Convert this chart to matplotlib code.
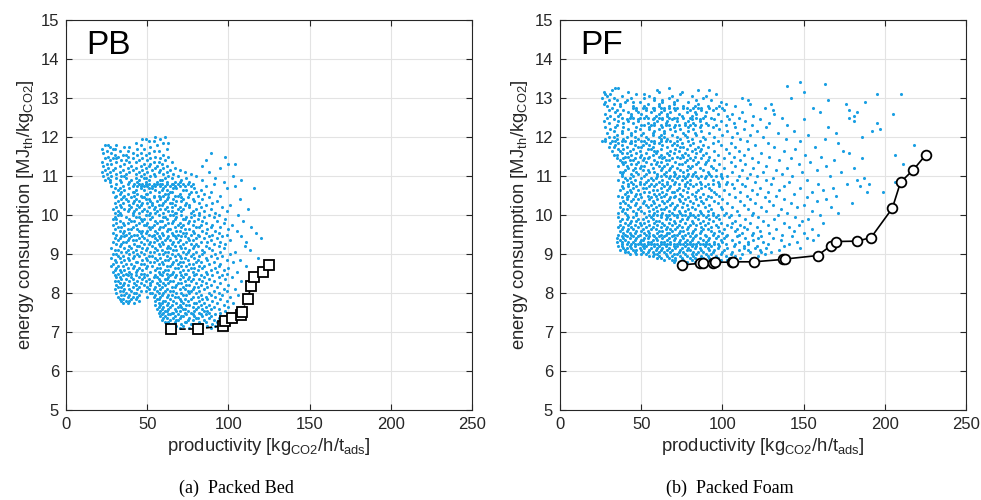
import matplotlib
matplotlib.use("Agg")
import matplotlib.pyplot as plt

# ---------------- data ----------------
xticks = [0, 50, 100, 150, 200, 250]
yticks = [5, 6, 7, 8, 9, 10, 11, 12, 13, 14, 15]

# Packed bed (PB) scatter cloud: energy rows and the productivities read on each row
pb_row_y = [12.00, 11.95, 11.90, 11.85, 11.80, 11.75, 11.70, 11.65, 11.60, 11.55, 11.50, 11.45, 11.40, 11.35,
            11.30, 11.25, 11.20, 11.15, 11.10, 11.05, 11.00, 10.95, 10.90, 10.85, 10.80, 10.75, 10.70, 10.65,
            10.60, 10.55, 10.50, 10.45, 10.40, 10.35, 10.30, 10.25, 10.20, 10.15, 10.10, 10.05, 10.00, 9.95,
            9.90, 9.85, 9.80, 9.75, 9.70, 9.65, 9.60, 9.55, 9.50, 9.45, 9.40, 9.35, 9.30, 9.25, 9.20, 9.15,
            9.10, 9.05, 9.00, 8.95, 8.90, 8.85, 8.80, 8.75, 8.70, 8.65, 8.60, 8.55, 8.50, 8.45, 8.40, 8.35,
            8.30, 8.25, 8.20, 8.15, 8.10, 8.05, 8.00, 7.95, 7.90, 7.85, 7.80, 7.75, 7.70, 7.65, 7.60, 7.55,
            7.50, 7.45, 7.40, 7.35, 7.30, 7.25, 7.20, 7.15, 7.10]
pb_row_x = [
    [55, 61], [47, 49, 58], [51, 54], [43, 60, 63], [24, 26, 31, 46, 56], [27, 36, 39, 52],
    [22, 29, 30, 44, 48, 62], [25, 33, 38, 54, 57], [23, 28, 41, 46, 51, 89], [30, 35, 37, 44, 49, 60],
    [26, 32, 38, 55, 63, 98], [24, 29, 31, 41, 47, 52, 58], [27, 34, 37, 45, 50, 61, 86],
    [22, 31, 39, 43, 54, 57, 65], [25, 28, 36, 48, 52, 59, 100, 104], [23, 33, 40, 46, 51, 56, 62, 84],
    [26, 30, 38, 43, 49, 55, 60, 67, 95], [24, 29, 35, 41, 47, 53, 58, 64, 70],
    [22, 27, 33, 39, 45, 50, 57, 62, 73, 88], [25, 31, 37, 43, 48, 54, 60, 66, 77],
    [23, 28, 34, 36, 46, 52, 55, 63, 69, 80, 103], [26, 31, 37, 43, 48, 49, 61, 65, 74, 92],
    [24, 27, 33, 40, 45, 51, 58, 59, 71, 84, 108], [27, 34, 39, 44, 49, 56, 62, 67, 70, 76, 97],
    [31, 38, 42, 45, 47, 49, 51, 54, 56, 58, 59, 62, 65, 66, 69, 72, 75, 78, 91],
    [28, 35, 41, 44, 46, 48, 50, 53, 55, 58, 61, 64, 67, 70, 73, 77, 86, 104],
    [30, 33, 39, 46, 51, 53, 60, 66, 68, 79, 99, 116], [32, 36, 43, 48, 55, 59, 62, 72, 74, 83],
    [29, 34, 41, 42, 52, 57, 64, 65, 77, 80, 89], [33, 38, 44, 49, 50, 61, 63, 70, 76, 85],
    [31, 36, 42, 46, 54, 57, 60, 67, 69, 81, 95], [30, 35, 40, 47, 48, 54, 58, 63, 71, 75, 88],
    [34, 37, 43, 49, 51, 58, 62, 66, 72, 78, 84, 107], [32, 38, 42, 45, 52, 56, 61, 68, 71, 79, 93],
    [30, 35, 41, 47, 50, 53, 60, 64, 65, 74, 82, 90], [33, 39, 44, 46, 53, 57, 59, 67, 73, 76, 86, 101],
    [31, 34, 40, 45, 51, 55, 62, 65, 70, 76, 83, 96], [29, 36, 39, 43, 48, 54, 58, 61, 69, 72, 80, 89, 112],
    [32, 38, 42, 47, 50, 56, 63, 65, 71, 78, 85, 99], [30, 33, 41, 45, 52, 55, 60, 67, 68, 77, 82, 92],
    [32, 34, 41, 49, 51, 57, 64, 66, 71, 79, 82, 88, 94, 106],
    [30, 37, 43, 45, 53, 60, 61, 68, 74, 77, 85, 91],
    [29, 31, 39, 46, 48, 52, 62, 67, 72, 73, 81, 98],
    [33, 40, 42, 47, 55, 58, 59, 66, 76, 79, 84, 93, 109],
    [31, 35, 38, 45, 50, 56, 63, 65, 70, 75, 86, 97],
    [29, 36, 43, 48, 49, 54, 61, 69, 72, 78, 83, 90, 102],
    [32, 34, 41, 51, 53, 58, 60, 67, 71, 80, 82, 89, 95, 114],
    [30, 38, 40, 44, 52, 57, 63, 64, 73, 76, 87, 100],
    [33, 36, 45, 47, 50, 55, 62, 68, 70, 78, 84, 92, 105],
    [29, 35, 39, 46, 49, 56, 59, 65, 72, 74, 79, 86, 94, 117],
    [31, 37, 42, 44, 51, 54, 60, 66, 69, 77, 81, 90, 99],
    [34, 36, 40, 47, 53, 57, 63, 67, 71, 73, 82, 88, 96, 108],
    [30, 33, 39, 45, 48, 55, 58, 62, 68, 75, 80, 85, 93, 120],
    [32, 38, 41, 43, 50, 56, 61, 64, 70, 76, 78, 89, 101],
    [29, 35, 37, 46, 52, 54, 59, 66, 69, 74, 83, 87, 95, 111],
    [31, 34, 42, 48, 51, 57, 60, 65, 72, 77, 80, 91, 98],
    [33, 39, 44, 45, 53, 58, 63, 67, 70, 79, 81, 86, 94, 110],
    [28, 36, 40, 47, 50, 55, 62, 64, 71, 73, 78, 88, 97],
    [30, 32, 38, 43, 49, 56, 59, 66, 68, 76, 84, 90, 113],
    [34, 37, 41, 46, 52, 54, 61, 63, 72, 75, 80, 85, 95, 104],
    [29, 31, 39, 44, 48, 57, 60, 65, 69, 74, 78, 84, 92, 101],
    [32, 35, 42, 45, 51, 53, 62, 67, 70, 77, 82, 89, 96],
    [28, 33, 38, 41, 49, 55, 58, 64, 71, 73, 79, 86, 93, 118],
    [30, 36, 39, 47, 50, 56, 61, 63, 68, 75, 81, 87, 99, 107],
    [31, 34, 43, 44, 52, 54, 59, 66, 70, 72, 80, 83, 91, 103],
    [29, 37, 40, 46, 48, 57, 60, 65, 69, 76, 78, 88, 95],
    [28, 32, 35, 42, 50, 53, 62, 64, 71, 74, 82, 85, 94, 111],
    [31, 38, 41, 45, 49, 56, 58, 67, 69, 77, 79, 84, 92, 100],
    [30, 33, 36, 44, 47, 55, 61, 63, 72, 75, 81, 89, 97],
    [29, 34, 39, 43, 52, 57, 60, 66, 70, 78, 86, 93, 105],
    [32, 37, 40, 46, 48, 58, 62, 65, 73, 74, 80, 87, 99],
    [30, 35, 38, 43, 50, 55, 59, 64, 68, 71, 79, 83, 90, 96],
    [31, 33, 40, 45, 48, 54, 56, 63, 67, 72, 76, 85, 94, 102],
    [34, 37, 41, 47, 51, 57, 61, 62, 70, 75, 78, 82, 88, 98],
    [30, 32, 39, 44, 49, 53, 58, 64, 66, 73, 77, 84, 91, 108],
    [33, 36, 42, 46, 52, 56, 60, 63, 69, 71, 80, 86, 95],
    [31, 35, 38, 43, 48, 52, 57, 61, 68, 74, 76, 83, 89, 100],
    [32, 34, 41, 45, 50, 55, 59, 65, 67, 72, 79, 81, 87, 93],
    [30, 36, 39, 44, 51, 54, 58, 62, 70, 73, 78, 85, 97, 104],
    [33, 35, 40, 46, 49, 56, 61, 64, 66, 75, 77, 82, 91, 99],
    [31, 37, 42, 43, 52, 53, 57, 60, 68, 71, 76, 80, 88, 94],
    [34, 36, 39, 45, 55, 59, 63, 65, 72, 74, 83, 89, 96, 106],
    [32, 38, 41, 44, 50, 54, 58, 62, 67, 69, 78, 81, 86, 92, 101],
    [33, 35, 40, 43, 56, 57, 64, 70, 73, 77, 84, 87, 95],
    [34, 37, 39, 45, 55, 60, 61, 66, 71, 75, 82, 90, 99],
    [35, 38, 42, 57, 59, 63, 68, 72, 79, 80, 85, 93, 103],
    [55, 58, 62, 65, 70, 74, 76, 83, 88, 97],
    [57, 60, 64, 69, 71, 78, 81, 86, 91, 100, 108],
    [56, 59, 63, 67, 72, 73, 80, 84, 89, 94],
    [58, 61, 62, 68, 70, 75, 79, 85, 87, 98],
    [57, 60, 65, 66, 73, 77, 82, 88, 95, 104],
    [59, 63, 64, 69, 74, 78, 83, 86, 92],
    [58, 61, 67, 71, 72, 79, 84, 89, 97, 101],
    [60, 62, 66, 70, 76, 80, 81, 88, 94],
    [59, 64, 68, 69, 75, 78, 85, 91, 99],
    [61, 63, 67, 73, 74, 82, 86, 93],
    [62, 66, 71, 77, 79, 84, 90, 96],
    [64, 68, 72, 80, 87, 92],
    [66, 70, 76, 83, 89],
]

# Packed foam (PF) scatter cloud
pf_row_y = [13.40, 13.35, 13.30, 13.25, 13.20, 13.15, 13.10, 13.05, 13.00, 12.95, 12.90, 12.85, 12.80, 12.75,
            12.70, 12.65, 12.60, 12.55, 12.50, 12.45, 12.40, 12.35, 12.30, 12.25, 12.20, 12.15, 12.10, 12.05,
            12.00, 11.95, 11.90, 11.85, 11.80, 11.75, 11.70, 11.65, 11.60, 11.55, 11.50, 11.45, 11.40, 11.35,
            11.30, 11.25, 11.20, 11.15, 11.10, 11.05, 11.00, 10.95, 10.90, 10.85, 10.80, 10.75, 10.70, 10.65,
            10.60, 10.55, 10.50, 10.45, 10.40, 10.35, 10.30, 10.25, 10.20, 10.15, 10.10, 10.05, 10.00, 9.95,
            9.90, 9.85, 9.80, 9.75, 9.70, 9.65, 9.60, 9.55, 9.50, 9.45, 9.40, 9.35, 9.30, 9.25, 9.20, 9.15,
            9.10, 9.05, 9.00, 8.95, 8.90, 8.85, 8.80]
pf_row_x = [
    [148], [163], [140], [34, 36, 67], [32, 60, 85, 92], [27, 42, 61, 75, 150],
    [28, 31, 47, 52, 74, 96, 195, 210], [29, 38, 55, 69, 81, 90], [26, 33, 44, 52, 58, 67, 88, 112, 142],
    [30, 35, 41, 58, 63, 72, 84, 93, 116, 165], [28, 40, 45, 49, 63, 70, 79, 99, 188],
    [27, 33, 37, 54, 61, 70, 85, 102, 117, 130, 176], [29, 37, 45, 52, 61, 67, 76, 83, 91, 98, 108],
    [32, 45, 47, 51, 53, 57, 58, 62, 64, 67, 70, 72, 76, 78, 82, 85, 87, 92, 96, 100, 126, 156],
    [30, 35, 39, 47, 53, 58, 64, 71, 80, 87, 94, 101, 131, 178],
    [34, 42, 48, 56, 62, 68, 78, 83, 90, 112, 160, 183],
    [28, 37, 44, 50, 61, 66, 73, 84, 97, 106, 132, 205],
    [31, 36, 44, 53, 59, 66, 75, 81, 89, 103, 119, 181],
    [29, 38, 43, 45, 49, 52, 54, 58, 61, 63, 67, 70, 72, 76, 80, 84, 88, 93, 110, 137, 178],
    [33, 41, 48, 57, 63, 69, 81, 86, 95, 104, 123, 150],
    [27, 36, 42, 48, 60, 66, 72, 79, 86, 99, 114, 181],
    [30, 39, 45, 54, 58, 65, 77, 82, 90, 107, 129, 195],
    [35, 50, 52, 56, 58, 62, 65, 67, 71, 73, 77, 80, 83, 87, 91, 96, 102, 118, 140],
    [28, 34, 39, 47, 55, 63, 70, 79, 86, 94, 108, 127, 165],
    [31, 42, 49, 55, 61, 68, 74, 82, 98, 113, 197],
    [33, 38, 46, 58, 64, 71, 79, 87, 103, 121, 144, 192],
    [29, 38, 44, 51, 57, 64, 76, 83, 92, 109, 134, 170],
    [35, 44, 50, 57, 62, 69, 77, 84, 100, 117, 153],
    [30, 33, 41, 46, 53, 61, 64, 72, 78, 88, 95, 106, 125, 186],
    [28, 35, 39, 48, 54, 62, 66, 74, 81, 89, 111, 139, 163],
    [26, 28, 32, 34, 38, 40, 44, 46, 50, 52, 56, 58, 62, 65, 68, 72, 79, 86, 97, 115, 148],
    [31, 36, 43, 44, 53, 58, 61, 70, 75, 82, 94, 105, 128, 171],
    [34, 38, 46, 51, 55, 63, 69, 72, 80, 88, 99, 120, 218],
    [30, 33, 41, 48, 50, 57, 66, 74, 76, 85, 91, 108, 132, 157],
    [36, 39, 45, 54, 56, 62, 71, 78, 83, 87, 102, 116, 145],
    [32, 37, 43, 49, 58, 60, 68, 73, 81, 86, 95, 110, 138, 174],
    [38, 41, 47, 53, 59, 66, 70, 77, 84, 90, 104, 124, 178],
    [33, 35, 44, 50, 57, 62, 67, 75, 79, 88, 97, 113, 151, 206],
    [40, 42, 49, 55, 61, 64, 72, 76, 83, 92, 107, 129, 161],
    [35, 39, 46, 52, 54, 63, 69, 74, 80, 87, 101, 118, 142, 186],
    [37, 43, 45, 51, 58, 65, 67, 78, 82, 91, 95, 111, 135, 169],
    [38, 40, 48, 53, 60, 62, 71, 77, 85, 90, 105, 122, 154],
    [39, 44, 47, 56, 59, 66, 73, 75, 84, 89, 98, 114, 147, 211],
    [36, 41, 50, 52, 61, 64, 69, 79, 81, 93, 108, 127, 164],
    [42, 46, 49, 57, 63, 68, 72, 80, 86, 94, 101, 119, 140, 181],
    [40, 45, 51, 54, 62, 67, 74, 78, 88, 96, 112, 133, 158],
    [37, 39, 47, 55, 58, 65, 70, 76, 83, 91, 106, 125, 149, 173],
    [38, 44, 48, 53, 60, 64, 71, 79, 82, 92, 99, 117, 137],
    [38, 45, 52, 60, 62, 65, 68, 70, 73, 76, 78, 81, 84, 87, 90, 93, 96, 99, 103, 110, 121, 143, 166],
    [40, 43, 50, 56, 59, 67, 72, 77, 85, 89, 100, 115, 131, 187],
    [36, 41, 46, 54, 57, 63, 69, 75, 80, 94, 109, 127, 152, 183],
    [39, 44, 49, 53, 61, 66, 71, 78, 86, 97, 103, 120, 141, 206],
    [42, 45, 49, 52, 56, 59, 63, 66, 70, 73, 77, 80, 84, 87, 91, 94, 98, 102, 106, 112, 130, 159, 177, 190],
    [38, 42, 47, 55, 58, 64, 68, 77, 82, 89, 98, 114, 138, 185],
    [39, 45, 51, 53, 62, 67, 73, 79, 87, 92, 107, 123, 148, 168],
    [37, 43, 48, 57, 60, 66, 72, 76, 85, 93, 101, 118, 135, 162],
    [41, 44, 52, 55, 63, 69, 70, 78, 84, 95, 111, 128, 155, 189, 199],
    [40, 47, 49, 58, 61, 65, 74, 81, 88, 96, 104, 121, 144],
    [36, 42, 46, 54, 59, 64, 71, 75, 83, 91, 98, 115, 133, 170],
    [38, 41, 50, 56, 62, 68, 70, 79, 86, 93, 108, 126, 152],
    [41, 45, 48, 55, 60, 67, 73, 77, 84, 90, 100, 117, 138, 164],
    [39, 44, 52, 57, 63, 66, 74, 80, 87, 95, 111, 129, 158],
    [37, 40, 47, 51, 58, 64, 69, 76, 82, 88, 97, 103, 120, 142, 180],
    [42, 46, 53, 56, 61, 68, 72, 78, 85, 92, 113, 131, 150],
    [37, 43, 49, 54, 59, 65, 71, 75, 81, 89, 99, 106, 124, 146, 167],
    [39, 41, 48, 57, 62, 64, 70, 79, 83, 93, 100, 116, 136],
    [38, 45, 50, 55, 60, 67, 73, 77, 86, 91, 109, 127, 155],
    [36, 40, 47, 52, 58, 63, 69, 74, 80, 87, 94, 102, 119, 140, 171],
    [41, 47, 55, 57, 60, 62, 65, 67, 70, 72, 75, 77, 80, 82, 85, 88, 91, 94, 97, 101, 105, 110, 118, 134, 160],
    [36, 42, 45, 53, 56, 62, 66, 72, 79, 83, 90, 96, 104, 122, 145],
    [38, 41, 48, 51, 57, 65, 68, 75, 78, 85, 92, 98, 114, 132, 153],
    [37, 44, 47, 54, 59, 61, 70, 74, 81, 88, 94, 108, 125, 149],
    [40, 43, 49, 52, 58, 63, 67, 71, 77, 82, 86, 91, 99, 106, 117, 138, 162],
    [37, 42, 46, 50, 55, 60, 64, 69, 73, 80, 84, 89, 96, 103, 111, 128, 147],
    [36, 39, 44, 48, 53, 57, 62, 66, 72, 75, 79, 87, 93, 97, 105, 113, 121, 141],
    [38, 42, 45, 51, 56, 59, 65, 68, 71, 78, 83, 88, 91, 101, 109, 115, 133, 155],
    [37, 41, 47, 50, 54, 61, 63, 69, 74, 76, 82, 87, 93, 98, 108, 123, 144],
    [39, 43, 46, 52, 55, 60, 66, 67, 73, 79, 81, 86, 95, 100, 112, 119, 129, 150],
    [36, 40, 44, 49, 53, 57, 62, 65, 70, 72, 77, 84, 89, 94, 103, 110, 118, 137, 159],
    [38, 41, 45, 48, 55, 58, 61, 64, 69, 75, 80, 83, 90, 97, 102, 109, 124, 143],
    [35, 39, 43, 47, 52, 54, 59, 63, 67, 71, 76, 82, 86, 92, 96, 101, 114, 122, 131, 152],
    [37, 40, 46, 50, 51, 57, 60, 66, 70, 74, 78, 81, 88, 91, 99, 106, 119, 136, 156],
    [35, 38, 42, 45, 49, 54, 56, 62, 64, 68, 73, 77, 80, 85, 90, 95, 100, 110, 116, 125, 146],
    [38, 41, 44, 46, 48, 50, 52, 54, 56, 58, 60, 62, 64, 66, 68, 70, 72, 74, 76, 78, 80, 82, 84, 86, 88, 90,
     92, 95, 97, 102, 108, 116, 128, 141],
    [36, 38, 43, 46, 51, 53, 58, 61, 65, 70, 72, 77, 81, 84, 89, 93, 98, 107, 113, 121, 138],
    [39, 41, 44, 49, 52, 56, 60, 63, 67, 71, 75, 79, 83, 86, 91, 97, 103, 113, 120, 127, 148],
    [37, 40, 45, 47, 50, 55, 59, 62, 66, 69, 74, 78, 80, 87, 92, 95, 101, 110, 116, 123, 135],
    [40, 42, 46, 51, 54, 57, 61, 64, 68, 73, 76, 82, 85, 88, 94, 100, 106, 117, 124, 130],
    [43, 47, 50, 53, 58, 60, 65, 70, 72, 77, 81, 84, 90, 93, 99, 105, 112, 126],
    [55, 57, 61, 66, 69, 74, 78, 82, 87, 91, 96, 102, 108, 122],
    [60, 62, 67, 71, 75, 80, 83, 88, 92, 97, 104, 111, 118],
    [64, 69, 71, 76, 81, 86, 89, 95, 99, 103],
    [70, 73, 78, 83, 87, 94],
]

# Pareto fronts
pb_front_x = [64.5, 81.5, 96.9, 97.9, 102.0, 108.0, 108.4, 111.9, 113.9, 115.8, 121.3, 125.2]
pb_front_y = [7.07, 7.08, 7.16, 7.28, 7.37, 7.43, 7.52, 7.85, 8.17, 8.41, 8.54, 8.72]
pf_front_x = [74.9, 86.2, 87.8, 94.4, 95.5, 105.7, 106.8, 119.5, 137.1, 138.3, 158.6, 166.7, 170.1,
              182.9, 191.5, 204.6, 209.7, 217.6, 225.4]
pf_front_y = [8.72, 8.76, 8.78, 8.78, 8.79, 8.79, 8.80, 8.80, 8.86, 8.87, 8.96, 9.21, 9.32,
              9.33, 9.42, 10.17, 10.84, 11.16, 11.55]

panel_tags = ["PB", "PF"]
captions = ["(a)  Packed Bed", "(b)  Packed Foam"]
xlabel = r"productivity [kg$_{\mathrm{CO2}}$/h/t$_{\mathrm{ads}}$]"
ylabel = r"energy consumption [MJ$_{\mathrm{th}}$/kg$_{\mathrm{CO2}}$]"

# ---------------- drawing ----------------
plt.rcParams["font.family"] = ["Liberation Sans", "DejaVu Sans"]
plt.rcParams["mathtext.fontset"] = "custom"
plt.rcParams["mathtext.rm"] = "Liberation Sans"
plt.rcParams["mathtext.it"] = "Liberation Sans:italic"

W, H = 981, 500
fig = plt.figure(figsize=(W / 100, H / 100), dpi=100)

dot_color = "#1a9fe3"


def expand(rows_y, rows_x):
    xs, ys = [], []
    for yv, row in zip(rows_y, rows_x):
        for xv in row:
            xs.append(xv)
            ys.append(yv)
    return xs, ys


panels = [
    (66, expand(pb_row_y, pb_row_x), pb_front_x, pb_front_y, "s", "--"),
    (560, expand(pf_row_y, pf_row_x), pf_front_x, pf_front_y, "o", "-"),
]

for i, (left_px, (sx, sy), fx, fy, mk, ls) in enumerate(panels):
    ax = fig.add_axes([left_px / W, 90 / H, 406 / W, 390 / H])
    ax.scatter(sx, sy, s=5, color=dot_color, linewidths=0, zorder=2)
    ax.plot(fx, fy, linestyle=ls, color="black", lw=1.2, marker=mk,
            markersize=6.5 if mk == "s" else 7, markerfacecolor="white",
            markeredgecolor="black", markeredgewidth=1.3, zorder=3)
    ax.set_xlim(0, 250)
    ax.set_ylim(5, 15)
    ax.set_xticks(xticks)
    ax.set_yticks(yticks)
    ax.grid(True, color="#e3e3e3", lw=0.8, zorder=0)
    ax.set_axisbelow(True)
    ax.tick_params(direction="in", top=True, right=True, length=4, width=0.8,
                   labelsize=12, color="#262626", labelcolor="#262626", pad=5)
    for sp in ax.spines.values():
        sp.set_color("#262626")
        sp.set_linewidth(0.8)
    ax.set_xlabel(xlabel, fontsize=13.3, color="#262626", labelpad=3)
    ax.set_ylabel(ylabel, fontsize=13.3, color="#262626", labelpad=3)
    ax.text(0.05, 0.975, panel_tags[i], transform=ax.transAxes, fontsize=24,
            va="top", ha="left", color="black")

fig.text(236 / W, 1 - 488 / H, captions[0], ha="center", va="center",
         fontsize=13, family="Liberation Serif")
fig.text(730 / W, 1 - 488 / H, captions[1], ha="center", va="center",
         fontsize=13, family="Liberation Serif")

fig.savefig("out.png", dpi=100)
